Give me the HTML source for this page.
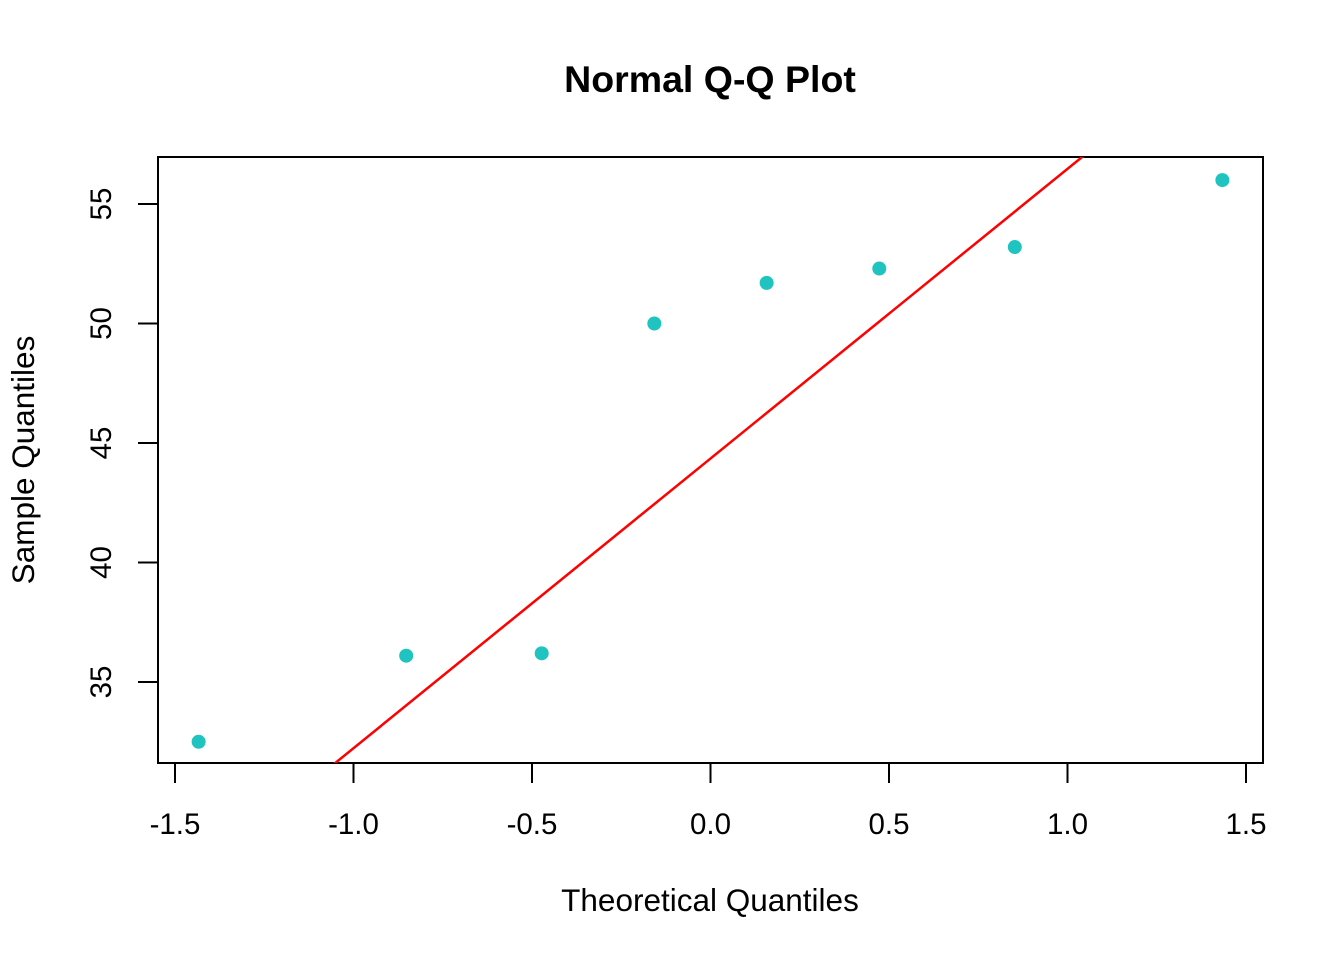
<!DOCTYPE html>
<html><head><meta charset="utf-8"><style>
html,body{margin:0;background:#fff;overflow:hidden;width:1344px;height:960px}
svg{display:block;font-family:"Liberation Sans",Arial,sans-serif}
</style></head><body>
<svg id="chart" width="1344" height="960">
<text x="710" y="92" text-anchor="middle" font-size="37.5" font-weight="bold">Normal Q-Q Plot</text>
<text x="710" y="911" text-anchor="middle" font-size="31.5">Theoretical Quantiles</text>
<text transform="translate(34,460) rotate(-90)" text-anchor="middle" font-size="31.5">Sample Quantiles</text>
<defs><clipPath id="clip"><rect x="158" y="157" width="1105" height="606"/></clipPath></defs>
<rect x="158" y="157" width="1105" height="606" fill="none" stroke="#000" stroke-width="2"/>
<g id="axes"></g>
<g id="marks" clip-path="url(#clip)"></g>
</svg>
<script>
const theoretical = [-1.4338, -0.8524, -0.4728, -0.1573, 0.1573, 0.4728, 0.8524, 1.4338];
const sample = [32.5, 36.1, 36.2, 50.0, 51.7, 52.3, 53.2, 56.0];
const xTicks = [-1.5, -1.0, -0.5, 0.0, 0.5, 1.0, 1.5];
const xTickLabels = ["-1.5", "-1.0", "-0.5", "0.0", "0.5", "1.0", "1.5"];
const yTicks = [35, 40, 45, 50, 55];
const yTickLabels = ["35", "40", "45", "50", "55"];

const NS = "http://www.w3.org/2000/svg";
const X = v => 710.5 + v * 357;
const Y = v => 204 - (v - 55) * 23.9;
function mk(tag, attrs, parent) {
  const e = document.createElementNS(NS, tag);
  for (const k in attrs) e.setAttribute(k, attrs[k]);
  parent.appendChild(e);
  return e;
}
const axes = document.getElementById("axes");
const marks = document.getElementById("marks");

const xl = mk("line", {x1: X(xTicks[0]), x2: X(xTicks[xTicks.length-1]), y1: 763, y2: 763, stroke: "#000", "stroke-width": 2}, axes);


xTicks.forEach((t, i) => {
  const tk = mk("line", {x1: X(t), x2: X(t), y1: 763, y2: 783, stroke: "#000", "stroke-width": 2}, axes);
  
  
  const tx = mk("text", {x: X(t), y: 834, "text-anchor": "middle", "font-size": 29.5}, axes);
  tx.textContent = xTickLabels[i];
  
  
});
const yl = mk("line", {x1: 158, x2: 158, y1: Y(yTicks[0]), y2: Y(yTicks[yTicks.length-1]), stroke: "#000", "stroke-width": 2}, axes);


yTicks.forEach((t, i) => {
  const tk = mk("line", {x1: 138, x2: 158, y1: Y(t), y2: Y(t), stroke: "#000", "stroke-width": 2}, axes);
  
  
  const tx = mk("text", {x: 0, y: 0, "text-anchor": "middle", "font-size": 29.5, transform: `translate(111,${Y(t)}) rotate(-90)`}, axes);
  tx.textContent = yTickLabels[i];
  
  
});

const s = sample.slice().sort((a, b) => a - b);
function q(p) { const h = (s.length - 1) * p, lo = Math.floor(h); return s[lo] + (h - lo) * ((s[lo+1] ?? s[lo]) - s[lo]); }
const z = 0.67449;
const slope = (q(0.75) - q(0.25)) / (2 * z);
const intercept = q(0.25) + z * slope;
const ln = mk("line", {x1: X(-2), y1: Y(intercept - 2 * slope), x2: X(2), y2: Y(intercept + 2 * slope), stroke: "#ff0000", "stroke-width": 2.5}, marks);



theoretical.forEach((t, i) => {
  const c = mk("circle", {cx: X(t), cy: Y(sample[i]), r: 7, fill: "#1fc3c0"}, marks);
  
  
});
</script>
</body></html>
